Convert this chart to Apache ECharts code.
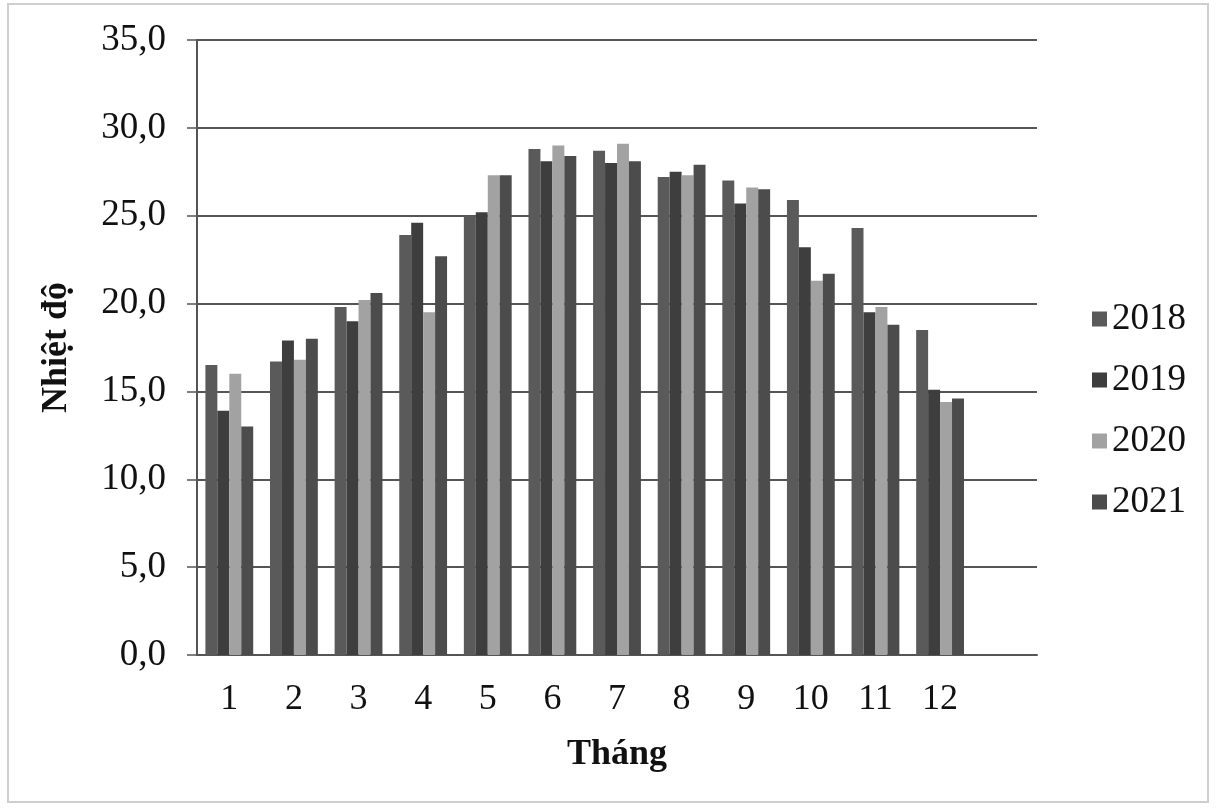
<!DOCTYPE html>
<html>
<head>
<meta charset="utf-8">
<script src="https://cdn.jsdelivr.net/npm/echarts@6/dist/echarts.min.js"></script>
<style>html,body{margin:0;padding:0;background:#fff;}#c{width:1216px;height:808px;}</style>
</head>
<body>
<div id="c"></div>
<script>
const months = ['1','2','3','4','5','6','7','8','9','10','11','12'];
const years = ['2018','2019','2020','2021'];
const t2018 = [16.5, 16.7, 19.8, 23.9, 25.0, 28.8, 28.7, 27.2, 27.0, 25.9, 24.3, 18.5];
const t2019 = [13.9, 17.9, 19.0, 24.6, 25.2, 28.1, 28.0, 27.5, 25.7, 23.2, 19.5, 15.1];
const t2020 = [16.0, 16.8, 20.2, 19.5, 27.3, 29.0, 29.1, 27.3, 26.6, 21.3, 19.8, 14.4];
const t2021 = [13.0, 18.0, 20.6, 22.7, 27.3, 28.4, 28.1, 27.9, 26.5, 21.7, 18.8, 14.6];
const yTicks = [0, 5, 10, 15, 20, 25, 30, 35];

const seriesData = [t2018, t2019, t2020, t2021];
const colors = ['#5a5a5a', '#3e3e3e', '#a2a2a2', '#4c4c4c'];
const font = '"Liberation Serif", "DejaVu Serif", serif';

const chart = echarts.init(document.getElementById('c'));
chart.setOption({
  backgroundColor: '#ffffff',
  animation: false,
  textStyle: { fontFamily: font },
  grid: { left: 197, right: 179, top: 40, bottom: 153, containLabel: false },
  legend: {
    data: years,
    orient: 'vertical',
    left: 1087,
    top: 295,
    itemWidth: 15,
    itemHeight: 15,
    itemGap: 23,
    icon: 'rect',
    textStyle: { fontFamily: font, fontSize: 37, lineHeight: 38, color: '#111' }
  },
  xAxis: {
    type: 'category',
    data: months.concat(['']),
    name: 'Tháng',
    nameLocation: 'middle',
    nameGap: 82,
    nameTextStyle: { fontFamily: font, fontSize: 36, fontWeight: 'bold', color: '#111' },
    axisLine: { lineStyle: { color: '#555', width: 2 } },
    axisTick: { show: false },
    axisLabel: { fontFamily: font, fontSize: 36, color: '#111', margin: 27 }
  },
  yAxis: {
    type: 'value',
    min: yTicks[0],
    max: yTicks[yTicks.length - 1],
    interval: 5,
    name: 'Nhiệt độ',
    nameLocation: 'middle',
    nameRotate: 90,
    nameGap: 122,
    nameTextStyle: { fontFamily: font, fontSize: 36, fontWeight: 'bold', color: '#111' },
    axisLine: { show: true, lineStyle: { color: '#555', width: 2 } },
    axisTick: { show: true, length: 10, lineStyle: { color: '#555', width: 1.5 } },
    splitLine: { lineStyle: { color: '#555', width: 2 } },
    axisLabel: {
      fontFamily: font, fontSize: 37, color: '#111', margin: 31,
      formatter: v => v.toFixed(1).replace('.', ',')
    }
  },
  series: years.map((y, i) => ({
    name: y,
    type: 'bar',
    data: seriesData[i],
    barGap: '0%',
    barCategoryGap: '26%',
    itemStyle: { color: colors[i] }
  })),
  graphic: [{
    type: 'rect',
    shape: { x: 8, y: 4, width: 1200, height: 798 },
    style: { fill: 'none', stroke: '#cfcfcf', lineWidth: 2 },
    silent: true
  }]
});
</script>
</body>
</html>
